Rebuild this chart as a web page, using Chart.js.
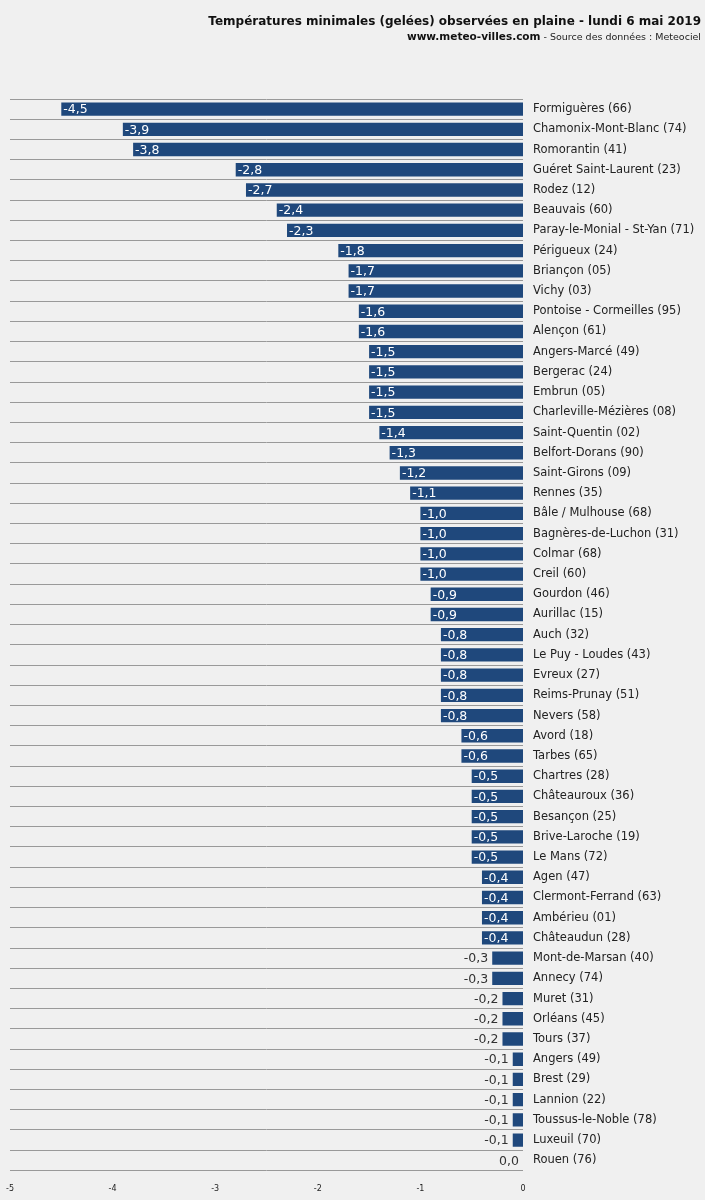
<!DOCTYPE html>
<html><head><meta charset="utf-8">
<script src="https://cdn.jsdelivr.net/npm/chart.js@4"></script>
<style>html,body{margin:0;padding:0;background:#f0f0f0}#w{width:705px;height:1200px}</style>
</head><body><div id="w"><canvas id="c"></canvas></div>
<script>
const stations = ["Formiguères (66)","Chamonix-Mont-Blanc (74)","Romorantin (41)","Guéret Saint-Laurent (23)","Rodez (12)","Beauvais (60)","Paray-le-Monial - St-Yan (71)","Périgueux (24)","Briançon (05)","Vichy (03)","Pontoise - Cormeilles (95)","Alençon (61)","Angers-Marcé (49)","Bergerac (24)","Embrun (05)","Charleville-Mézières (08)","Saint-Quentin (02)","Belfort-Dorans (90)","Saint-Girons (09)","Rennes (35)","Bâle / Mulhouse (68)","Bagnères-de-Luchon (31)","Colmar (68)","Creil (60)","Gourdon (46)","Aurillac (15)","Auch (32)","Le Puy - Loudes (43)","Evreux (27)","Reims-Prunay (51)","Nevers (58)","Avord (18)","Tarbes (65)","Chartres (28)","Châteauroux (36)","Besançon (25)","Brive-Laroche (19)","Le Mans (72)","Agen (47)","Clermont-Ferrand (63)","Ambérieu (01)","Châteaudun (28)","Mont-de-Marsan (40)","Annecy (74)","Muret (31)","Orléans (45)","Tours (37)","Angers (49)","Brest (29)","Lannion (22)","Toussus-le-Noble (78)","Luxeuil (70)","Rouen (76)"];
const temps = [-4.5,-3.9,-3.8,-2.8,-2.7,-2.4,-2.3,-1.8,-1.7,-1.7,-1.6,-1.6,-1.5,-1.5,-1.5,-1.5,-1.4,-1.3,-1.2,-1.1,-1.0,-1.0,-1.0,-1.0,-0.9,-0.9,-0.8,-0.8,-0.8,-0.8,-0.8,-0.6,-0.6,-0.5,-0.5,-0.5,-0.5,-0.5,-0.4,-0.4,-0.4,-0.4,-0.3,-0.3,-0.2,-0.2,-0.2,-0.1,-0.1,-0.1,-0.1,-0.1,0.0];
const xTicks = [-5,-4,-3,-2,-1,0];
const titleText = "Températures minimales (gelées) observées en plaine - lundi 6 mai 2019";
const subBold = "www.meteo-villes.com";
const subText = " - Source des données : Meteociel";

const fmt = v => v.toFixed(1).replace('.', ',');
const deco = {
  id:'deco',
  afterDatasetsDraw(ch){
    const c = ch.ctx, meta = ch.getDatasetMeta(0);
    c.save();
    c.font = '12.5px "DejaVu Sans"';
    c.textBaseline = 'middle';
    meta.data.forEach((b,i)=>{
      const v = temps[i];
      if (v <= -0.4) { c.fillStyle='#fff'; c.textAlign='left'; c.fillText(fmt(v), b.x+2, b.y+1); }
      else { c.fillStyle='#333'; c.textAlign='right'; c.fillText(fmt(v), b.x-4, b.y+1); }
    });
    c.textAlign='right'; c.textBaseline='alphabetic'; c.fillStyle='#111';
    c.font = 'bold 12px "DejaVu Sans"';
    c.fillText(titleText, 701, 25);
    c.font = '9.5px "DejaVu Sans"'; c.fillStyle='#222';
    const w = c.measureText(subText).width;
    c.fillText(subText, 701, 40);
    c.font = 'bold 10.5px "DejaVu Sans"'; c.fillStyle='#111';
    c.fillText(subBold, 701 - w, 40);
    c.restore();
  }
};
new Chart(document.getElementById('c'), {
  type:'bar',
  data:{labels:stations, datasets:[{data:temps, backgroundColor:'#1f487c', barPercentage:0.66, categoryPercentage:1}]},
  options:{
    responsive:true, maintainAspectRatio:false, animation:false,
    indexAxis:'y',
    layout:{padding:{top:99,left:8,right:0,bottom:0}},
    plugins:{legend:{display:false},tooltip:{enabled:false}},
    scales:{
      x:{min:-5,max:0,position:'bottom',
        afterBuildTicks(a){a.ticks=xTicks.map(v=>({value:v}));},
        ticks:{color:'#222',font:{size:8,family:'DejaVu Sans'},padding:6,callback:v=>String(v)},
        grid:{display:false},border:{display:false}},
      y:{position:'right',offset:true,
        afterFit(a){a.width=182;},
        ticks:{color:'#222',font:{size:11.5,family:'DejaVu Sans'},padding:10},
        grid:{offset:true,color:'#999',drawTicks:false,lineWidth:1},
        border:{display:false}}
    }
  },
  plugins:[deco]
});
</script></body></html>
